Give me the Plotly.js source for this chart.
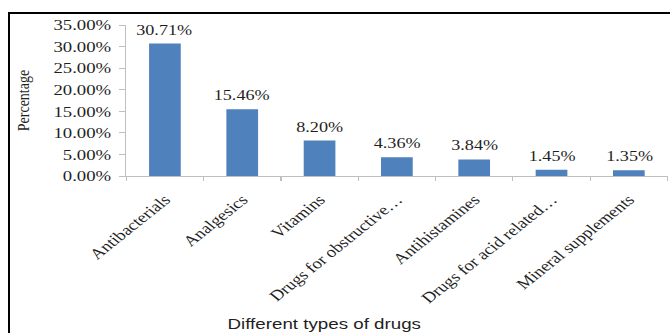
<!DOCTYPE html>
<html>
<head>
<meta charset="utf-8">
<script src="https://cdn.plot.ly/plotly-3.0.1.min.js"></script>
<style>
  html, body { margin: 0; padding: 0; background: #fff; overflow: hidden; width: 670px; height: 333px; }
  #chart { position: absolute; left: 0; top: 0; width: 536px; height: 333px; transform: scaleX(1.25); transform-origin: 0 0; }
  #frame { position: absolute; left: 8px; top: 12px; width: 700px; height: 400px; border-left: 2px solid #000; border-top: 2px solid #000; pointer-events: none; }
</style>
</head>
<body>
<div id="chart"></div>
<div id="frame"></div>
<script>
const categories = ["Antibacterials", "Analgesics", "Vitamins", "Drugs for obstructive…", "Antihistamines", "Drugs for acid related…", "Mineral supplements"];
const values = [30.71, 15.46, 8.20, 4.36, 3.84, 1.45, 1.35];
const yTitle = "Percentage";
const xTitle = "Different types of drugs";

const serif = "Liberation Serif, Times New Roman, serif";
const txtColor = "#1f1f1f";

const dataLabels = categories.map((c, i) => ({
  x: c, y: values[i], xref: "x", yref: "y",
  text: values[i].toFixed(2) + "%",
  showarrow: false, yanchor: "bottom", yshift: 4,
  font: { family: serif, size: 14.5, color: txtColor }
}));

const annotations = dataLabels.concat([
  { text: yTitle, xref: "paper", yref: "paper", x: -0.19, y: 0.5, textangle: -90,
    showarrow: false, xanchor: "center", yanchor: "middle",
    font: { family: serif, size: 14, color: txtColor } },
  { text: xTitle, xref: "paper", yref: "paper", x: 0.365, y: -0.98,
    showarrow: false, xanchor: "center", yanchor: "middle",
    font: { family: "Liberation Sans, Arial, sans-serif", size: 15, color: txtColor } }
]);

const trace = {
  type: "bar", x: categories, y: values,
  marker: { color: "#4f81bd" },
  hoverinfo: "skip", cliponaxis: false
};

const layout = {
  width: 536, height: 333,
  margin: { l: 100.8, r: 1.6, t: 25, b: 157, pad: 0 },
  paper_bgcolor: "rgba(0,0,0,0)", plot_bgcolor: "#fff",
  bargap: 0.59, showlegend: false,
  xaxis: {
    type: "category", showline: true, linecolor: "#bfbfbf", linewidth: 1,
    ticks: "outside", tickson: "boundaries", ticklen: 4, tickcolor: "#bfbfbf",
    tickangle: -45, showgrid: false, automargin: false, ticklabelstandoff: 8,
    tickfont: { family: serif, size: 15, color: txtColor }
  },
  yaxis: {
    range: [0, 35], tick0: 0, dtick: 5, tickformat: ".2f", ticksuffix: "%",
    showline: true, linecolor: "#bfbfbf", linewidth: 1,
    ticks: "outside", ticklen: 5, tickcolor: "#bfbfbf",
    showgrid: false, zeroline: false, automargin: false, ticklabelstandoff: 3,
    tickfont: { family: serif, size: 15, color: txtColor }
  },
  annotations: annotations
};

Plotly.newPlot("chart", [trace], layout, { displayModeBar: false, staticPlot: true });
</script>
</body>
</html>
